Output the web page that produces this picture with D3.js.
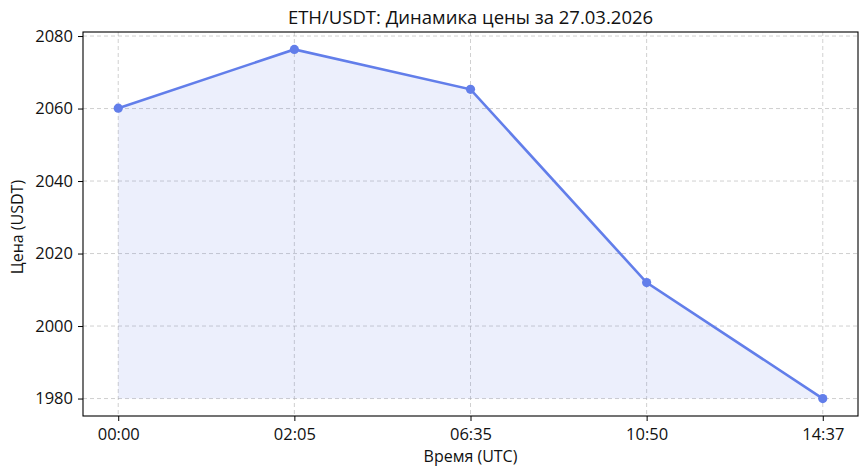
<!DOCTYPE html>
<html><head><meta charset="utf-8">
<script src="https://cdn.jsdelivr.net/npm/d3@7"></script>
<style>
body{margin:0;background:#fff;}
text{font-family:"Open Sans",sans-serif;fill:#111;}
</style></head>
<body><svg id="c" width="867" height="475"></svg>
<script>
const times = ["00:00","02:05","06:35","10:50","14:37"];
const prices = [2060.1, 2076.3, 2065.3, 2012.0, 1980.0];
const yTicks = [1980, 2000, 2020, 2040, 2060, 2080];
const titleText = "ETH/USDT: Динамика цены за 27.03.2026";
const xLabel = "Время (UTC)";
const yLabel = "Цена (USDT)";

const svg = d3.select("#c");
const m = {l:83, r:9, t:32, b:59};
const W = 867, H = 475;
const iw = W - m.l - m.r, ih = H - m.t - m.b;
const g = svg.append("g").attr("transform", `translate(${m.l},${m.t})`);

// 5% margins on each side of the data span (matplotlib default)
const x0 = iw*0.05/1.1;
const x = d3.scalePoint().domain(times).range([x0, iw - x0]).padding(0);

const mn = d3.min(prices), mx = d3.max(prices), d = mx - mn;
const y = d3.scaleLinear().domain([mn - 0.05*d, mx + 0.05*d]).range([ih, 0]);

// grid
g.append("g").selectAll("line").data(yTicks).join("line")
  .attr("x1",0).attr("x2",iw).attr("y1",v=>y(v)).attr("y2",v=>y(v))
  .attr("stroke","#b0b0b0").attr("stroke-opacity",0.75).attr("stroke-dasharray","4,3").attr("stroke-width",0.8);
g.append("g").selectAll("line").data(times).join("line")
  .attr("y1",0).attr("y2",ih).attr("x1",t=>x(t)).attr("x2",t=>x(t))
  .attr("stroke","#b0b0b0").attr("stroke-opacity",0.75).attr("stroke-dasharray","4,3").attr("stroke-width",0.8);

const data = times.map((t,i)=>({t, v:prices[i]}));
g.append("path").datum(data)
  .attr("d", d3.area().x(p=>x(p.t)).y0(y(mn)).y1(p=>y(p.v)))
  .attr("fill","#627EEA").attr("fill-opacity",0.12);
g.append("path").datum(data)
  .attr("d", d3.line().x(p=>x(p.t)).y(p=>y(p.v)))
  .attr("fill","none").attr("stroke","#627EEA").attr("stroke-width",2.6);
g.selectAll("circle").data(data).join("circle")
  .attr("cx",p=>x(p.t)).attr("cy",p=>y(p.v)).attr("r",4.6).attr("fill","#627EEA");

const xa = g.append("g").attr("transform",`translate(0,${ih})`)
  .call(d3.axisBottom(x).tickSize(5).tickPadding(7));
const ya = g.append("g").call(d3.axisLeft(y).tickValues(yTicks).tickSize(5).tickPadding(5).tickFormat(d3.format("d")));
[xa,ya].forEach(a=>{a.select(".domain").remove(); a.selectAll("line").attr("stroke","#000").attr("stroke-width",1);
  a.selectAll("text").attr("font-size",16.5).attr("font-family","'Open Sans', sans-serif").attr("fill","#111");});
g.append("rect").attr("x",0).attr("y",0).attr("width",iw).attr("height",ih)
  .attr("fill","none").attr("stroke","#000").attr("stroke-width",1.1);

svg.append("text").attr("x", m.l+iw/2).attr("y",24).attr("text-anchor","middle")
  .attr("font-size",18.5).text(titleText);
svg.append("text").attr("x", m.l+iw/2).attr("y",462).attr("text-anchor","middle")
  .attr("font-size",16).text(xLabel);
svg.append("text").attr("transform",`translate(23,${m.t+ih/2+3}) rotate(-90)`).attr("text-anchor","middle")
  .attr("font-size",16).text(yLabel);
</script></body></html>
